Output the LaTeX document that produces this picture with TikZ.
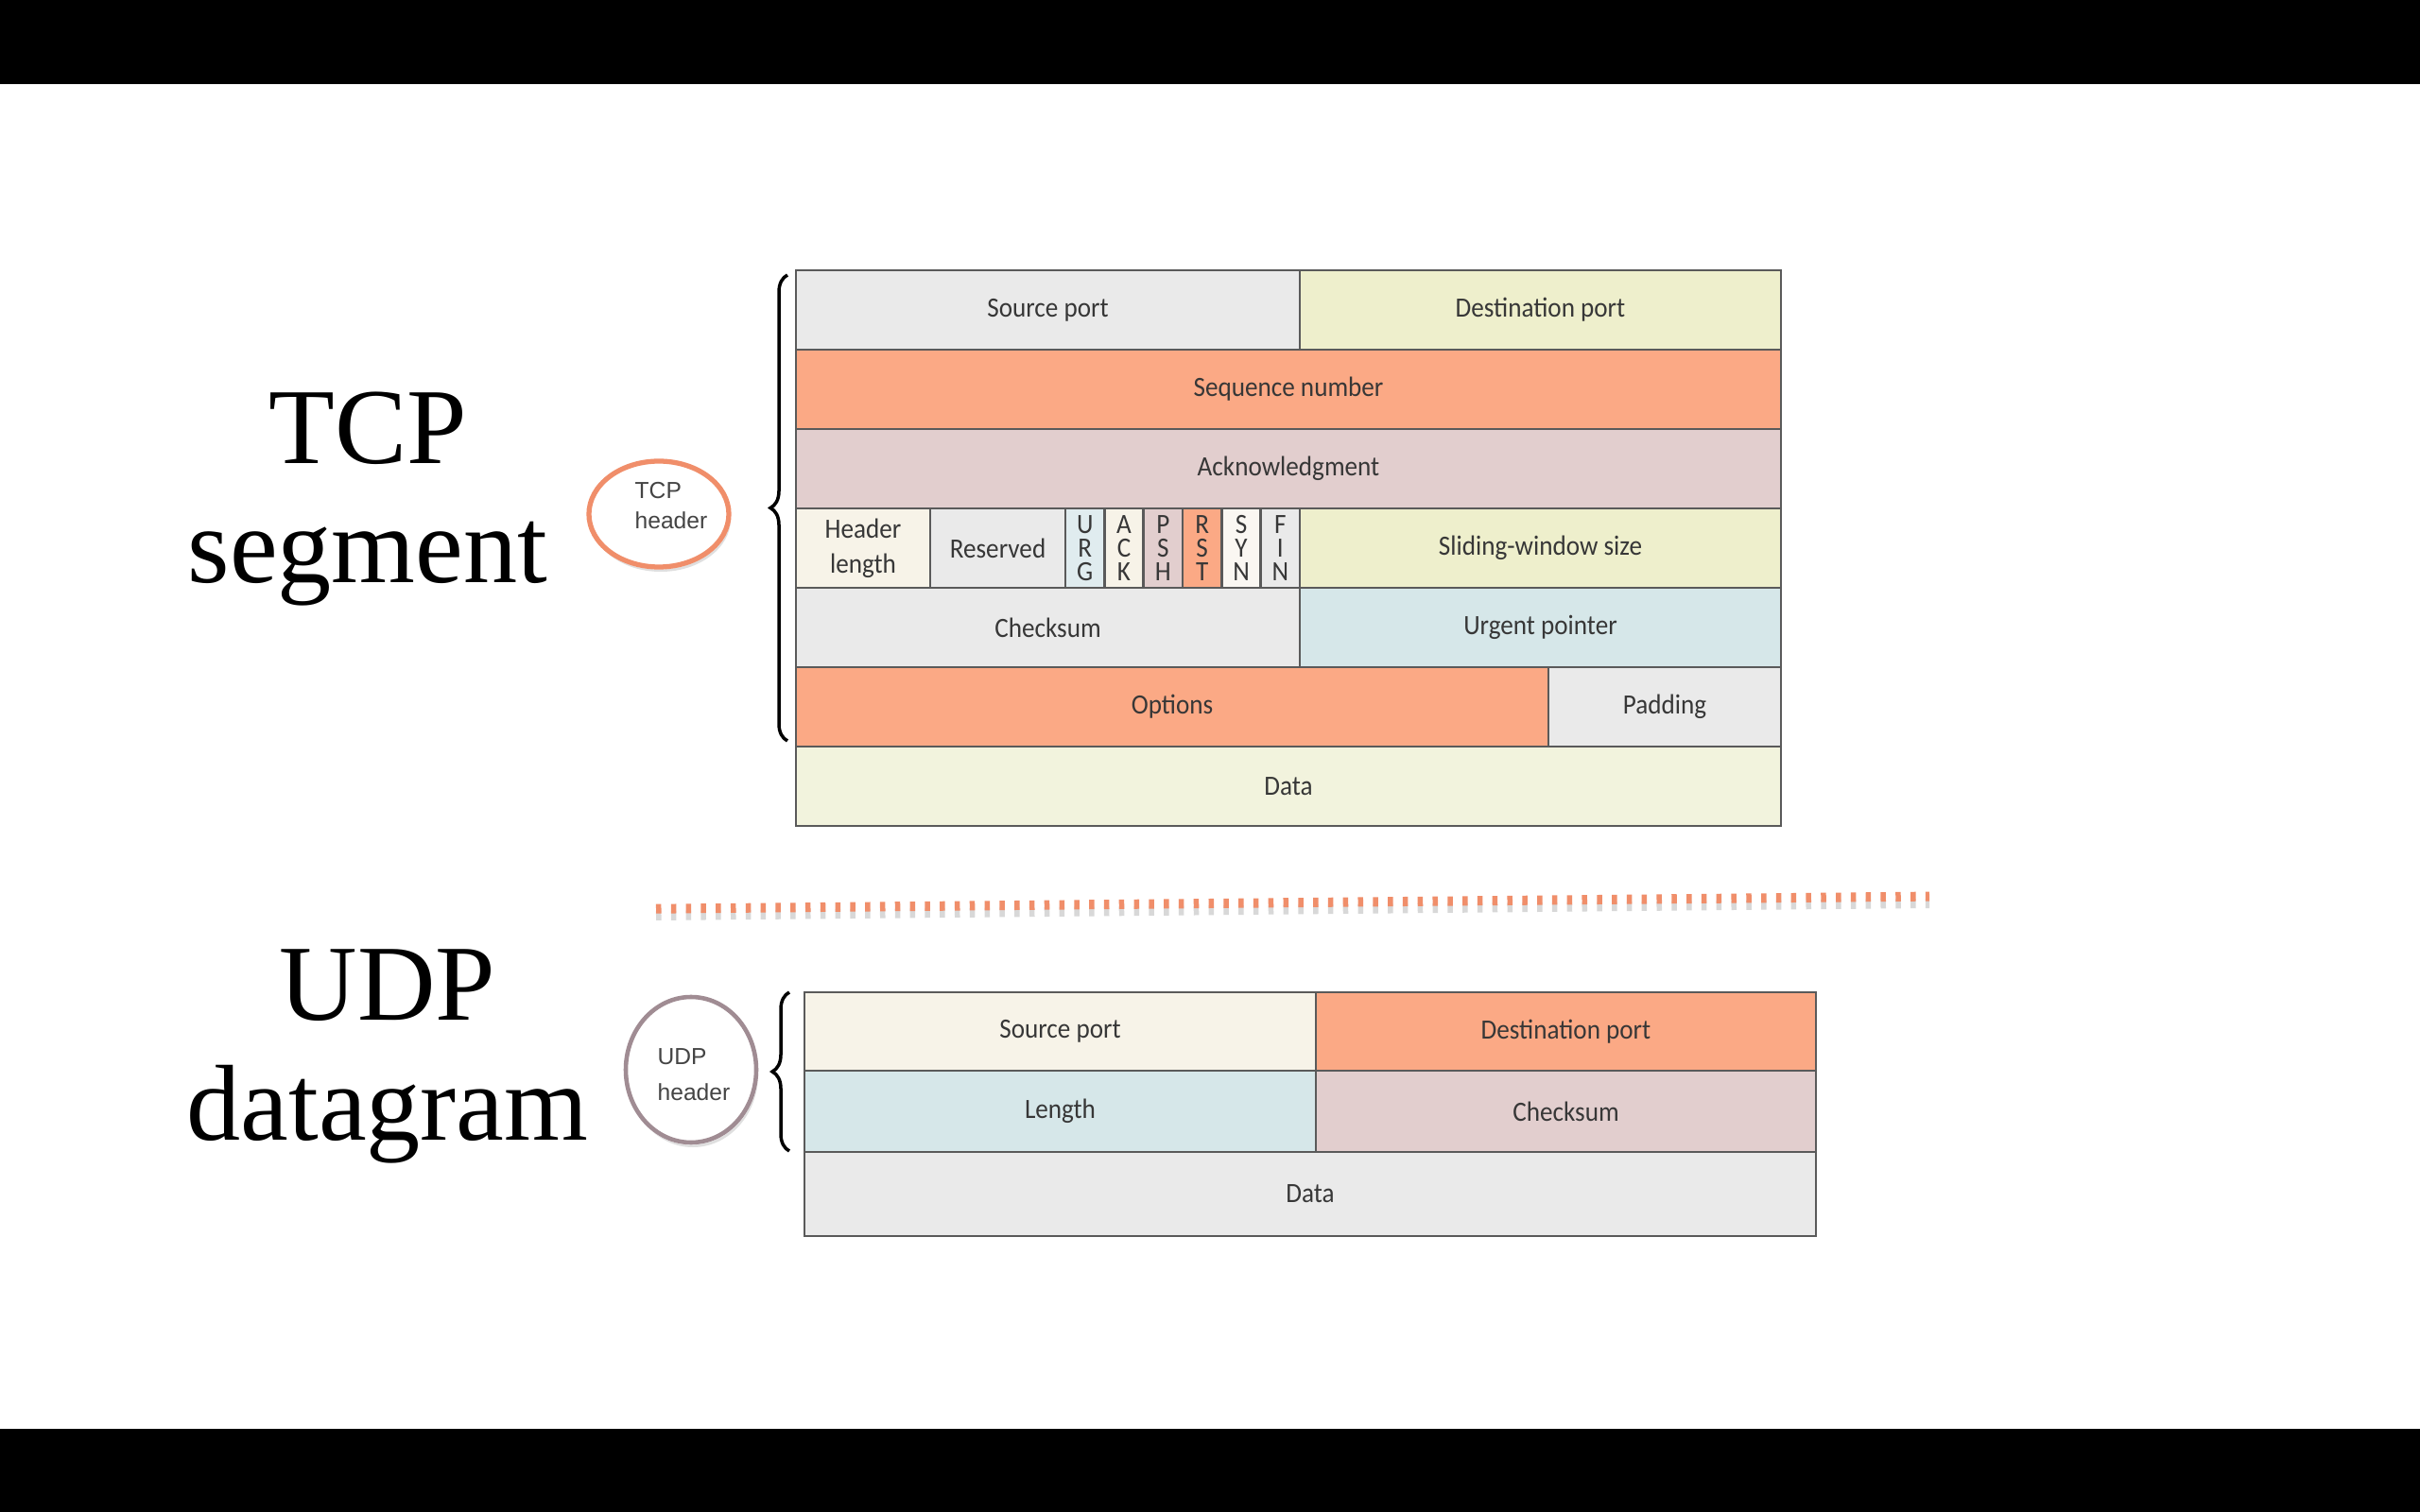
\documentclass[tikz,border=0pt]{standalone}
\usepackage{fontspec}
\setmainfont{Liberation Serif}
\setsansfont{Liberation Sans}
\newfontfamily\fieldfont[FakeStretch=0.92]{Carlito}
\definecolor{SlideBlack}{RGB}{0, 0, 0}
\definecolor{FieldLine}{RGB}{90, 90, 90}
\definecolor{FieldText}{RGB}{55, 55, 55}
\definecolor{FieldGray}{RGB}{234, 234, 234}
\definecolor{FieldYellow}{RGB}{238, 239, 204}
\definecolor{FieldPale}{RGB}{242, 243, 221}
\definecolor{FieldSalmon}{RGB}{251, 169, 133}
\definecolor{FieldPink}{RGB}{226, 206, 206}
\definecolor{FieldCream}{RGB}{247, 243, 232}
\definecolor{FieldBlue}{RGB}{214, 231, 233}
\definecolor{FlagBlue}{RGB}{224, 236, 239}
\definecolor{FlagWhite}{RGB}{250, 247, 242}
\definecolor{RingOrange}{RGB}{240, 142, 106}
\definecolor{RingMauve}{RGB}{160, 140, 147}
\definecolor{RingText}{RGB}{68, 68, 68}
\usetikzlibrary{
    decorations.pathreplacing,
    shadows,
    positioning
    }
\tikzset{
    field/.style={draw=FieldLine, line width=0.8pt},
    fieldtext/.style={text=FieldText, anchor=center, align=center, inner sep=0pt, font=\fieldfont\fontsize{8.4}{10.6}\selectfont},
    flagtext/.style={fieldtext, font=\fieldfont\fontsize{8.4}{7.2}\selectfont},
    bigtitle/.style={text=black, anchor=center, align=center, inner sep=0pt, font=\fontsize{32.5}{36}\selectfont},
    ringtext/.style={text=RingText, anchor=center, align=left, inner sep=0pt, font=\sffamily\fontsize{7}{9}\selectfont},
    headerbrace/.style={decorate, decoration={brace, amplitude=0.18cm}, line width=1pt, black},
    divider/.style={line width=0.1cm, dash pattern=on 0.055cm off 0.103cm}
}

\begin{document}
\begin{tikzpicture}

    \useasboundingbox (0,0) rectangle (25.6,-16);
    \fill[white] (0,0) rectangle (25.6,-16);
    \fill[SlideBlack] (0,0) rectangle (25.6,-0.89);
    \fill[SlideBlack] (0,-15.12) rectangle (25.6,-16);

    %TCP
    \node[bigtitle] (tcptitle) at (3.89,-5.28){TCP\\segment};
    \draw[white, line width=1.4pt, fill=white, drop shadow={opacity=0.25, shadow xshift=0.02cm, shadow yshift=-0.05cm}] (6.97,-5.44) ellipse (0.74cm and 0.56cm);
    \draw[RingOrange, line width=1.5pt] (6.97,-5.44) ellipse (0.74cm and 0.56cm);
    \node[ringtext] (tcphdr) at (7.10,-5.35){TCP\\header};
    \draw[headerbrace] (8.33,-7.84) -- (8.33,-2.91);

    \draw[field, fill=FieldGray] (8.42,-2.86) rectangle (13.75,-3.70);
    \draw[field, fill=FieldYellow] (13.75,-2.86) rectangle (18.84,-3.70);
    \draw[field, fill=FieldSalmon] (8.42,-3.70) rectangle (18.84,-4.54);
    \draw[field, fill=FieldPink] (8.42,-4.54) rectangle (18.84,-5.38);
    \draw[field, fill=FieldCream] (8.42,-5.38) rectangle (9.84,-6.22);
    \draw[field, fill=FieldGray] (9.84,-5.38) rectangle (11.27,-6.22);
    \draw[field, fill=FlagBlue] (11.27,-5.38) rectangle (11.683,-6.22);
    \draw[field, fill=FieldCream] (11.683,-5.38) rectangle (12.097,-6.22);
    \draw[field, fill=FieldPink] (12.097,-5.38) rectangle (12.51,-6.22);
    \draw[field, fill=FieldSalmon] (12.51,-5.38) rectangle (12.923,-6.22);
    \draw[field, fill=FlagWhite] (12.923,-5.38) rectangle (13.337,-6.22);
    \draw[field, fill=FieldGray] (13.337,-5.38) rectangle (13.75,-6.22);
    \draw[field, fill=FieldYellow] (13.75,-5.38) rectangle (18.84,-6.22);
    \draw[field, fill=FieldGray] (8.42,-6.22) rectangle (13.75,-7.06);
    \draw[field, fill=FieldBlue] (13.75,-6.22) rectangle (18.84,-7.06);
    \draw[field, fill=FieldSalmon] (8.42,-7.06) rectangle (16.38,-7.90);
    \draw[field, fill=FieldGray] (16.38,-7.06) rectangle (18.84,-7.90);
    \draw[field, fill=FieldPale] (8.42,-7.90) rectangle (18.84,-8.74);

    \node[fieldtext] (tcpsrc) at (11.085,-3.28){Source port};
    \node[fieldtext] (tcpdst) at (16.295,-3.28){Destination port};
    \node[fieldtext] (tcpseq) at (13.63,-4.12){Sequence number};
    \node[fieldtext] (tcpack) at (13.63,-4.96){Acknowledgment};
    \node[fieldtext] (tcphlen) at (9.13,-4.96-0.84){Header\\length};
    \node[fieldtext] (tcpres) at (10.555,-5.80){Reserved};
    \node[flagtext] (tcpurg) at (11.477,-5.80){U\\R\\G};
    \node[flagtext] (tcpackf) at (11.89,-5.80){A\\C\\K};
    \node[flagtext] (tcppsh) at (12.303,-5.80){P\\S\\H};
    \node[flagtext] (tcprst) at (12.717,-5.80){R\\S\\T};
    \node[flagtext] (tcpsyn) at (13.13,-5.80){S\\Y\\N};
    \node[flagtext] (tcpfin) at (13.543,-5.80){F\\I\\N};
    \node[fieldtext] (tcpwin) at (16.295,-5.80){Sliding-window size};
    \node[fieldtext] (tcpsum) at (11.085,-6.64){Checksum};
    \node[fieldtext] (tcpurgp) at (16.295,-6.64){Urgent pointer};
    \node[fieldtext] (tcpopt) at (12.40,-7.48){Options};
    \node[fieldtext] (tcppad) at (17.61,-7.48){Padding};
    \node[fieldtext] (tcpdata) at (13.63,-8.32){Data};

    %Divider
    \draw[divider, gray!60, opacity=0.5] (6.94,-9.69) -- (20.41,-9.56);
    \draw[divider, RingOrange] (6.94,-9.617) -- (20.41,-9.486);

    %UDP
    \node[bigtitle] (udptitle) at (4.10,-11.18){UDP\\datagram};
    \draw[white, line width=1.4pt, fill=white, drop shadow={opacity=0.25, shadow xshift=0.02cm, shadow yshift=-0.05cm}] (7.31,-11.32) ellipse (0.69cm and 0.77cm);
    \draw[RingMauve, line width=1.3pt] (7.31,-11.32) ellipse (0.69cm and 0.77cm);
    \node[ringtext, font=\sffamily\fontsize{7}{10.9}\selectfont] (udphdr) at (7.34,-11.37){UDP\\header};
    \draw[headerbrace] (8.35,-12.18) -- (8.35,-10.50);

    \draw[field, fill=FieldCream] (8.51,-10.50) rectangle (13.92,-11.33);
    \draw[field, fill=FieldSalmon] (13.92,-10.50) rectangle (19.21,-11.33);
    \draw[field, fill=FieldBlue] (8.51,-11.33) rectangle (13.92,-12.19);
    \draw[field, fill=FieldPink] (13.92,-11.33) rectangle (19.21,-12.19);
    \draw[field, fill=FieldGray] (8.51,-12.19) rectangle (19.21,-13.08);

    \node[fieldtext] (udpsrc) at (11.215,-10.915){Source port};
    \node[fieldtext] (udpdst) at (16.565,-10.915){Destination port};
    \node[fieldtext] (udplen) at (11.215,-11.76){Length};
    \node[fieldtext] (udpsum) at (16.565,-11.76){Checksum};
    \node[fieldtext] (udpdata) at (13.86,-12.635){Data};

\end{tikzpicture}
\end{document}
